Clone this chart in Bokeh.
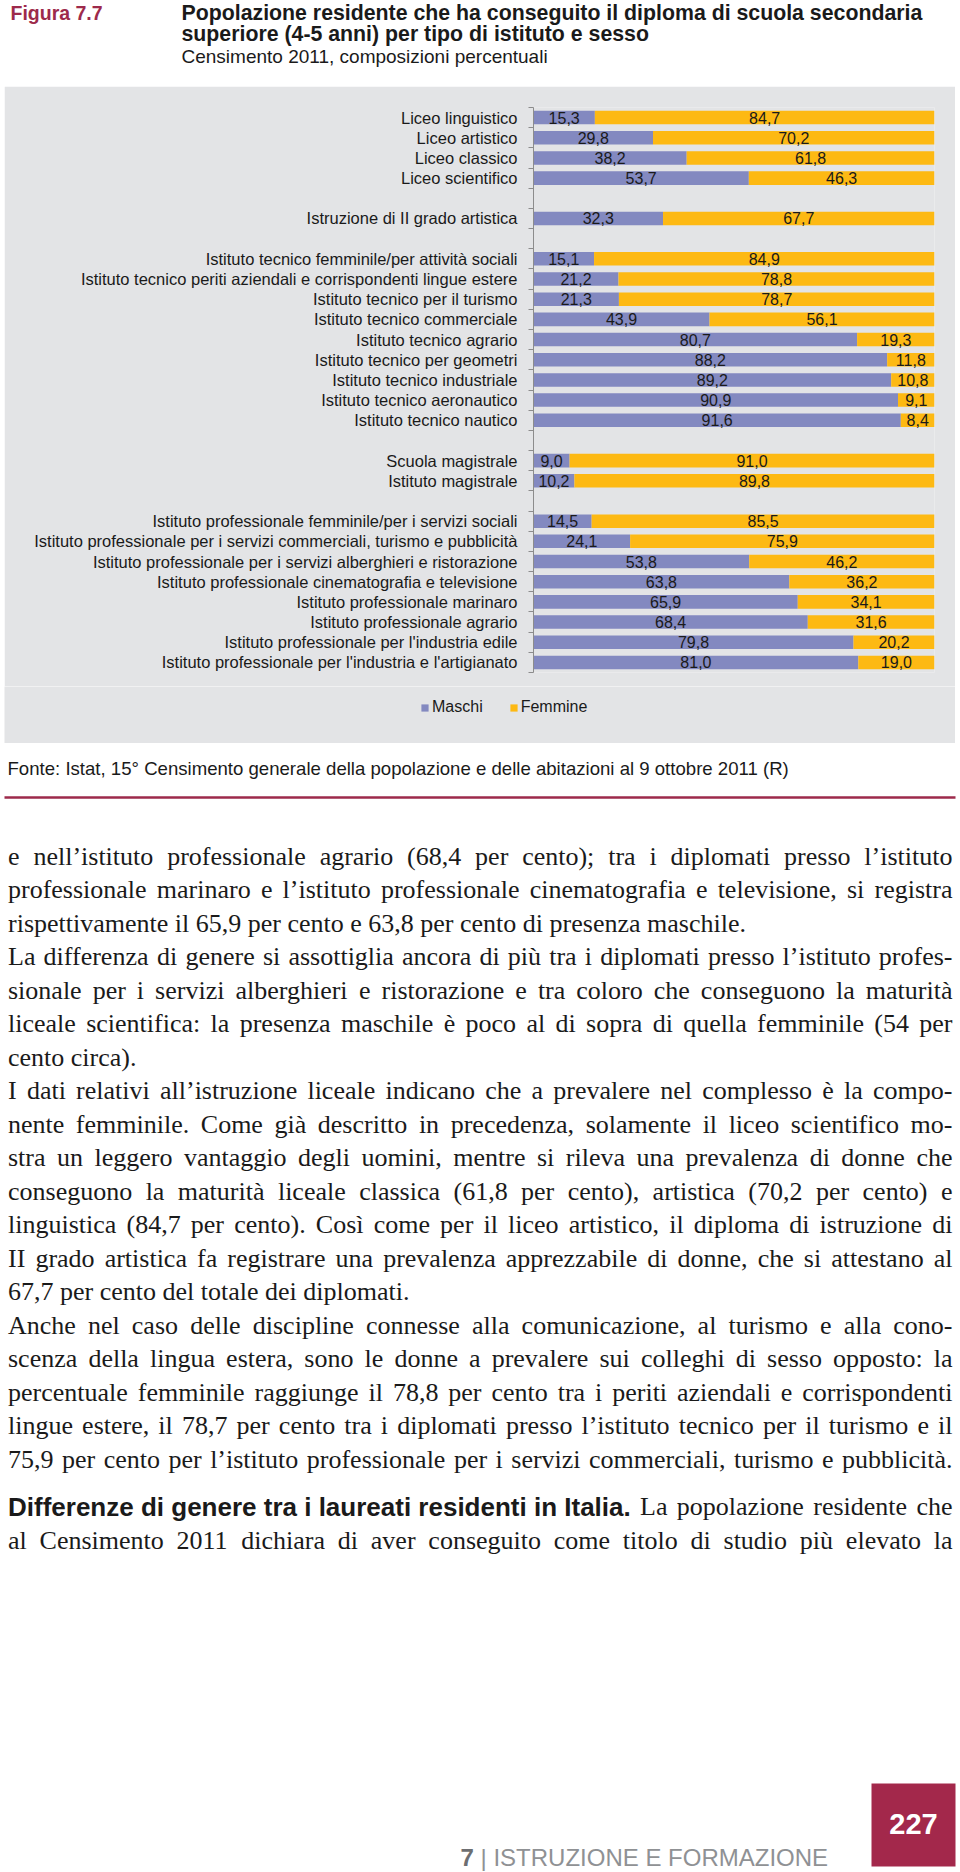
from bokeh.plotting import figure
from bokeh.models import ColumnDataSource, Range1d, FixedTicker, Legend, LegendItem, Spacer
from bokeh.layouts import column, row
from bokeh.core.properties import value
from bokeh.embed import file_html
from bokeh.resources import INLINE

# ---------------- data ----------------
categories = [
    "Liceo linguistico", "Liceo artistico", "Liceo classico", "Liceo scientifico",
    "Istruzione di II grado artistica",
    "Istituto tecnico femminile/per attività sociali",
    "Istituto tecnico periti aziendali e corrispondenti lingue estere",
    "Istituto tecnico per il turismo",
    "Istituto tecnico commerciale",
    "Istituto tecnico agrario",
    "Istituto tecnico per geometri",
    "Istituto tecnico industriale",
    "Istituto tecnico aeronautico",
    "Istituto tecnico nautico",
    "Scuola magistrale", "Istituto magistrale",
    "Istituto professionale femminile/per i servizi sociali",
    "Istituto professionale per i servizi commerciali, turismo e pubblicità",
    "Istituto professionale per i servizi alberghieri e ristorazione",
    "Istituto professionale cinematografia e televisione",
    "Istituto professionale marinaro",
    "Istituto professionale agrario",
    "Istituto professionale per l'industria edile",
    "Istituto professionale per l'industria e l'artigianato",
]
groups = [0, 0, 0, 0, 1, 2, 2, 2, 2, 2, 2, 2, 2, 2, 3, 3, 4, 4, 4, 4, 4, 4, 4, 4]
maschi = [15.3, 29.8, 38.2, 53.7, 32.3, 15.1, 21.2, 21.3, 43.9, 80.7, 88.2, 89.2,
          90.9, 91.6, 9.0, 10.2, 14.5, 24.1, 53.8, 63.8, 65.9, 68.4, 79.8, 81.0]
femmine = [84.7, 70.2, 61.8, 46.3, 67.7, 84.9, 78.8, 78.7, 56.1, 19.3, 11.8, 10.8,
           9.1, 8.4, 91.0, 89.8, 85.5, 75.9, 46.2, 36.2, 34.1, 31.6, 20.2, 19.0]
series = ["Maschi", "Femmine"]

# ---------------- style ----------------
SANS = "Liberation Sans"
SERIF = "Liberation Serif"
GRAY = "#e3e4e6"
C_M = "#8389c0"
C_F = "#fdb913"
MAROON = "#9d2a4b"
INK = "#1a1a1a"


def fmt(v):
    return f"{v:.1f}".replace(".", ",")


def base_fig(w, h, bg="white"):
    p = figure(width=w, height=h, x_range=Range1d(0, w), y_range=Range1d(h, 0),
               x_axis_location=None, y_axis_location=None, toolbar_location=None,
               output_backend="svg", min_border=0, outline_line_color=None,
               background_fill_color=bg, border_fill_color=bg, title=None,
               frame_align=False)
    p.grid.visible = False
    return p


def put(p, x, y, s, size, color=INK, font=SANS, style="normal", align="left", base="alphabetic"):
    p.text(x=[x], y=[y], text=[s], text_font=value(font), text_font_size=f"{size}px",
           text_font_style=style, text_color=color, text_align=align, text_baseline=base)


# ---------------- header (page y 0..86) ----------------
pA = base_fig(960, 86)
put(pA, 10, 12, "Figura 7.7", 19.5, color=MAROON, style="bold")
put(pA, 181, 12, "Popolazione residente che ha conseguito il diploma di scuola secondaria", 21.3, style="bold")
put(pA, 181, 33.5, "superiore (4-5 anni) per tipo di istituto e sesso", 21.3, style="bold")
put(pA, 181, 56, "Censimento 2011, composizioni percentuali", 19)

# ---------------- chart (page x 4..955, y 86..686) ----------------
pos = [i + g for i, g in enumerate(groups)]
n_slots = max(pos) + 1
tot = [m + f for m, f in zip(maschi, femmine)]
src = ColumnDataSource(dict(
    cat=categories, pos=pos, m=maschi, f=femmine, mf=tot,
    xm=[m / 2 for m in maschi], xf=[m + f / 2 for m, f in zip(maschi, femmine)],
    lm=[fmt(m) for m in maschi], lf=[fmt(f) for f in femmine]))

pB = figure(width=951, height=600, x_range=Range1d(0, 100),
            y_range=Range1d(n_slots - 0.5, -0.5),
            x_axis_location=None, toolbar_location=None, output_backend="svg",
            min_border_left=529, min_border_right=21, min_border_top=21, min_border_bottom=14,
            background_fill_color=GRAY, border_fill_color=GRAY, outline_line_color=None,
            title=None, frame_align=False)
pB.grid.visible = False
pB.hbar(y="pos", left=0, right="m", height=0.67, source=src, fill_color=C_M, line_color=None)
pB.hbar(y="pos", left="m", right="mf", height=0.67, source=src, fill_color=C_F, line_color=None)
pB.text(x="xm", y="pos", text="lm", source=src, text_align="center", text_baseline="middle",
        text_font=value(SANS), text_font_size="16px", text_color=INK)
pB.text(x="xf", y="pos", text="lf", source=src, text_align="center", text_baseline="middle",
        text_font=value(SANS), text_font_size="16px", text_color=INK)

yax = pB.yaxis[0]
yax.ticker = FixedTicker(ticks=pos, minor_ticks=[k - 0.5 for k in range(n_slots + 1)])
yax.major_label_overrides = {p: c for p, c in zip(pos, categories)}
yax.axis_line_color = "#8c8c8c"
yax.minor_tick_line_color = "#8c8c8c"
yax.minor_tick_out = 5
yax.minor_tick_in = 0
yax.major_tick_in = 0
yax.major_tick_out = 0
yax.major_tick_line_color = None
yax.major_label_standoff = 11
yax.major_label_text_font = SANS
yax.major_label_text_font_size = "16.5px"
yax.major_label_text_color = INK

# ---------------- legend strip (page x 4..955, y 686..743) ----------------
pL = base_fig(951, 57, bg=GRAY)
rM = pL.hbar(y="pos", left=0, right="m", height=0.67, source=src, fill_color=C_M,
             line_color=None, visible=False)
rF = pL.hbar(y="pos", left="m", right="mf", height=0.67, source=src, fill_color=C_F,
             line_color=None, visible=False)
leg = Legend(items=[LegendItem(label=series[0], renderers=[rM]),
                    LegendItem(label=series[1], renderers=[rF])],
             location=(416, 26), orientation="horizontal",
             glyph_width=9, glyph_height=9, label_standoff=3, spacing=26,
             padding=0, margin=0, label_height=20, border_line_color=None,
             background_fill_alpha=0, inactive_fill_alpha=0,
             label_text_font=SANS, label_text_font_size="16px", label_text_color=INK)
pL.add_layout(leg)

# ---------------- text below (page y 743..1872) ----------------
pC = base_fig(960, 1129)
put(pC, 7, 25, "Fonte: Istat, 15° Censimento generale della popolazione e delle abitazioni al 9 ottobre 2011 (R)",
    18.6, base="middle")
pC.segment(x0=[4], y0=[54], x1=[955], y1=[54], line_width=2.5, line_color=MAROON)

TIMES = {' ': 250, '!': 333, '(': 333, ')': 333, ',': 250, '-': 333, '.': 250, ':': 278,
         ';': 278, '’': 333, "'": 333, '°': 400,
         'A': 722, 'B': 667, 'C': 667, 'D': 722, 'E': 611, 'F': 556, 'G': 722, 'H': 722,
         'I': 333, 'J': 389, 'K': 722, 'L': 611, 'M': 889, 'N': 722, 'O': 722, 'P': 556,
         'Q': 722, 'R': 667, 'S': 556, 'T': 611, 'U': 722, 'V': 722, 'W': 944, 'X': 722,
         'Y': 722, 'Z': 611,
         'a': 444, 'b': 500, 'c': 444, 'd': 500, 'e': 444, 'f': 333, 'g': 500, 'h': 500,
         'i': 278, 'j': 278, 'k': 500, 'l': 278, 'm': 778, 'n': 500, 'o': 500, 'p': 500,
         'q': 500, 'r': 333, 's': 389, 't': 278, 'u': 500, 'v': 500, 'w': 722, 'x': 500,
         'y': 500, 'z': 444, 'à': 444, 'è': 444, 'é': 444, 'ì': 278, 'ò': 500, 'ù': 500}
ARIALB = {' ': 278, '.': 278, ',': 278, 'D': 722, 'I': 278, 'a': 556, 'b': 611, 'c': 556,
          'd': 611, 'e': 556, 'f': 333, 'g': 611, 'h': 611, 'i': 278, 'l': 278, 'm': 889,
          'n': 611, 'o': 611, 'p': 611, 'r': 389, 's': 556, 't': 333, 'u': 611, 'v': 556,
          'z': 500}


def em(s, table):
    return sum(table.get(ch, 500) for ch in s) / 1000.0


body = [
    ("e nell’istituto professionale agrario (68,4 per cento); tra i diplomati presso l’istituto", True),
    ("professionale marinaro e l’istituto professionale cinematografia e televisione, si registra", True),
    ("rispettivamente il 65,9 per cento e 63,8 per cento di presenza maschile.", False),
    ("La differenza di genere si assottiglia ancora di più tra i diplomati presso l’istituto profes-", True),
    ("sionale per i servizi alberghieri e ristorazione e tra coloro che conseguono la maturità", True),
    ("liceale scientifica: la presenza maschile è poco al di sopra di quella femminile (54 per", True),
    ("cento circa).", False),
    ("I dati relativi all’istruzione liceale indicano che a prevalere nel complesso è la compo-", True),
    ("nente femminile. Come già descritto in precedenza, solamente il liceo scientifico mo-", True),
    ("stra un leggero vantaggio degli uomini, mentre si rileva una prevalenza di donne che", True),
    ("conseguono la maturità liceale classica (61,8 per cento), artistica (70,2 per cento) e", True),
    ("linguistica (84,7 per cento). Così come per il liceo artistico, il diploma di istruzione di", True),
    ("II grado artistica fa registrare una prevalenza apprezzabile di donne, che si attestano al", True),
    ("67,7 per cento del totale dei diplomati.", False),
    ("Anche nel caso delle discipline connesse alla comunicazione, al turismo e alla cono-", True),
    ("scenza della lingua estera, sono le donne a prevalere sui colleghi di sesso opposto: la", True),
    ("percentuale femminile raggiunge il 78,8 per cento tra i periti aziendali e corrispondenti", True),
    ("lingue estere, il 78,7 per cento tra i diplomati presso l’istituto tecnico per il turismo e il", True),
    ("75,9 per cento per l’istituto professionale per i servizi commerciali, turismo e pubblicità.", True),
]
heading = "Differenze di genere tra i laureati residenti in Italia."
heading_rest = "La popolazione residente che"
last_line = "al Censimento 2011 dichiara di aver conseguito come titolo di studio più elevato la"

X0, X1 = 7.5, 952.0
all_lines = [t for t, _ in body] + [last_line]
nat = max(sum(em(w, TIMES) for w in t.split()) + 0.25 * (len(t.split()) - 1) for t in all_lines)
FS = min(26.0, (X1 - X0) * 0.99 / nat)

wx, wy, wt = [], [], []


def lay(words, x0, x1, y, justify, lead_gap=False):
    ws = [em(w, TIMES) * FS for w in words]
    ngaps = len(words) - 1 + (1 if lead_gap else 0)
    gap = (x1 - x0 - sum(ws)) / ngaps if (justify and ngaps > 0) else 0.25 * FS
    x = x0 + (gap if lead_gap else 0)
    for w, wd in zip(words, ws):
        wx.append(x)
        wy.append(y)
        wt.append(w)
        x += wd + gap


for i, (t, j) in enumerate(body):
    lay(t.split(), X0, X1, 112.5 + 33.5 * i, j)

HS = 26
put(pC, X0, 763, heading, HS, style="bold")
hw = em(heading, ARIALB) * HS
lay(heading_rest.split(), X0 + hw, X1, 763, True, lead_gap=True)
lay(last_line.split(), X0, X1, 796.5, True)

pC.text(x=wx, y=wy, text=wt, text_font=value(SERIF), text_font_size=f"{FS:.2f}px",
        text_color=INK, text_align="left", text_baseline="alphabetic")

# page number block
pC.quad(left=[871], right=[955], top=[1040], bottom=[1123], fill_color="#a3284b", line_color=None)
put(pC, 913, 1080, "227", 29, color="white", style="bold", align="center", base="middle")
put(pC, 460, 1114, "7", 24, color="#6d6e71", style="bold")
put(pC, 480, 1114, "| ISTRUZIONE E FORMAZIONE", 24, color="#8f9194")

layout = column(pA,
                row(Spacer(width=4, height=600), pB, spacing=0),
                row(Spacer(width=4, height=57), pL, spacing=0),
                pC, spacing=0)
open("out.html", "w").write(file_html(layout, INLINE))
